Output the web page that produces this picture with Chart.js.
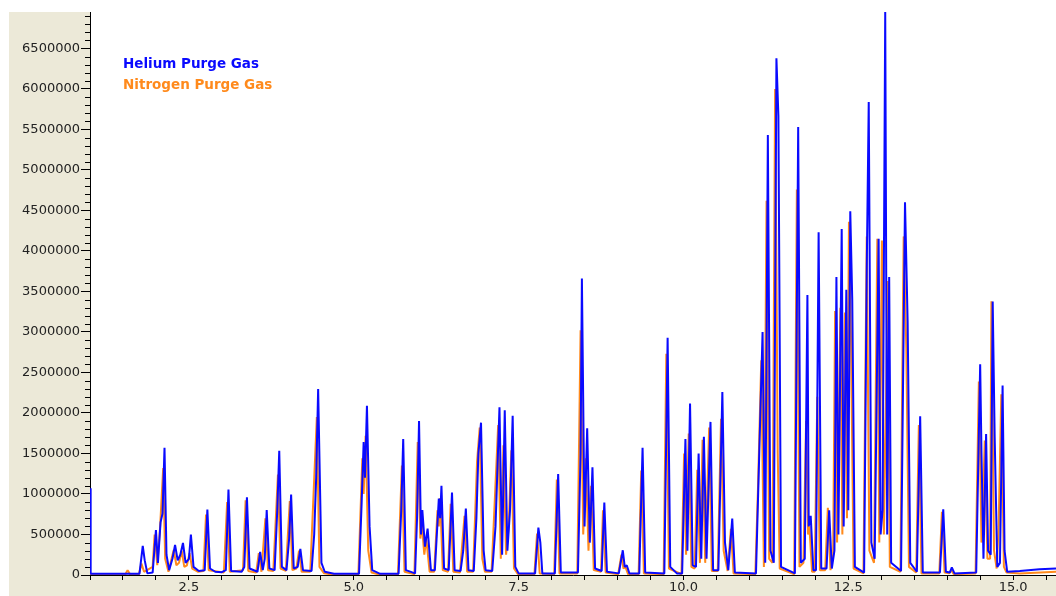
<!DOCTYPE html>
<html>
<head>
<meta charset="utf-8">
<script src="https://cdn.jsdelivr.net/npm/chart.js@4"></script>
<style>
  html, body { margin: 0; padding: 0; background: #fff; }
  canvas { display: block; }
</style>
</head>
<body>
<canvas id="chrom" width="1056" height="596"></canvas>
<script>
// retention time (min) and detector signal
var heliumTime = [
  1.00, 1.01, 1.75, 1.80, 1.83, 1.87, 1.95, 2.00, 2.03, 2.07, 2.10, 2.13, 2.16, 2.20, 2.25, 2.29, 2.33, 2.37, 2.41, 2.45,
  2.50, 2.53, 2.57, 2.65, 2.74, 2.78, 2.82, 2.90, 3.00, 3.06, 3.10, 3.14, 3.30, 3.34, 3.38, 3.42, 3.54, 3.58, 3.62, 3.65,
  3.68, 3.72, 3.80, 3.84, 3.87, 3.91, 3.98, 4.02, 4.05, 4.09, 4.15, 4.19, 4.23, 4.36, 4.40, 4.43, 4.46, 4.51, 4.56, 4.70,
  5.08, 5.12, 5.15, 5.17, 5.20, 5.24, 5.28, 5.40, 5.68, 5.72, 5.75, 5.79, 5.93, 5.96, 5.99, 6.02, 6.04, 6.08, 6.12, 6.17,
  6.23, 6.26, 6.29, 6.31, 6.33, 6.37, 6.44, 6.49, 6.53, 6.62, 6.66, 6.70, 6.74, 6.82, 6.86, 6.89, 6.93, 6.97, 7.00, 7.10,
  7.15, 7.21, 7.25, 7.29, 7.33, 7.37, 7.41, 7.45, 7.50, 7.75, 7.80, 7.83, 7.86, 8.05, 8.10, 8.14, 8.40, 8.44, 8.46, 8.50,
  8.54, 8.58, 8.62, 8.66, 8.76, 8.80, 8.84, 9.02, 9.08, 9.11, 9.14, 9.18, 9.33, 9.38, 9.42, 9.71, 9.76, 9.80, 9.90, 9.98,
  10.03, 10.06, 10.10, 10.14, 10.19, 10.23, 10.27, 10.31, 10.35, 10.41, 10.45, 10.53, 10.59, 10.63, 10.68, 10.74, 10.78, 11.10, 11.20, 11.24,
  11.28, 11.32, 11.37, 11.41, 11.44, 11.48, 11.69, 11.74, 11.78, 11.84, 11.88, 11.90, 11.93, 11.97, 12.01, 12.05, 12.09, 12.17, 12.21, 12.25,
  12.29, 12.32, 12.35, 12.40, 12.43, 12.47, 12.50, 12.53, 12.56, 12.60, 12.74, 12.78, 12.81, 12.85, 12.90, 12.96, 12.99, 13.02, 13.06, 13.09,
  13.12, 13.15, 13.30, 13.36, 13.40, 13.44, 13.54, 13.59, 13.63, 13.89, 13.94, 13.98, 14.04, 14.07, 14.11, 14.44, 14.50, 14.52, 14.55, 14.59,
  14.62, 14.66, 14.69, 14.72, 14.76, 14.80, 14.84, 14.87, 14.91, 15.10, 15.40, 15.65
];
var heliumSignal = [
  1070000, 15000, 15000, 360000, 180000, 20000, 30000, 556000, 150000, 650000, 760000, 1570000, 250000, 60000, 200000, 370000, 180000, 250000, 395000, 150000,
  200000, 500000, 100000, 50000, 60000, 807000, 80000, 40000, 35000, 60000, 1054000, 50000, 40000, 100000, 960000, 80000, 40000, 284000, 60000, 200000,
  803000, 80000, 60000, 800000, 1532000, 100000, 60000, 450000, 993000, 80000, 100000, 321000, 60000, 50000, 500000, 1200000, 2295000, 150000, 40000, 15000,
  15000, 900000, 1640000, 1200000, 2090000, 600000, 60000, 15000, 15000, 800000, 1680000, 60000, 20000, 700000, 1900000, 500000, 803000, 350000, 572000, 60000,
  60000, 500000, 943000, 700000, 1100000, 80000, 60000, 1017000, 60000, 50000, 300000, 819000, 60000, 50000, 700000, 1500000, 1880000, 300000, 60000, 50000,
  600000, 2070000, 250000, 2035000, 300000, 800000, 1965000, 100000, 20000, 20000, 585000, 400000, 20000, 20000, 1245000, 30000, 30000, 1500000, 3660000, 600000,
  1810000, 400000, 1330000, 80000, 50000, 894000, 40000, 20000, 305000, 100000, 120000, 20000, 20000, 1570000, 30000, 20000, 2930000, 100000, 20000, 20000,
  1680000, 300000, 2117000, 120000, 100000, 1500000, 200000, 1705000, 200000, 1890000, 60000, 60000, 2260000, 400000, 60000, 696000, 30000, 20000, 3000000, 150000,
  5430000, 300000, 150000, 6380000, 5670000, 100000, 20000, 5530000, 150000, 200000, 3455000, 600000, 730000, 60000, 60000, 4230000, 80000, 80000, 800000, 80000,
  300000, 3680000, 500000, 4270000, 600000, 3520000, 800000, 4490000, 3400000, 100000, 30000, 3800000, 5840000, 400000, 200000, 4150000, 500000, 800000, 6950000, 500000,
  3680000, 150000, 50000, 4600000, 3130000, 150000, 40000, 1960000, 30000, 30000, 810000, 40000, 30000, 93000, 20000, 30000, 2600000, 1500000, 200000, 1740000,
  300000, 250000, 3376000, 1700000, 100000, 150000, 2340000, 300000, 40000, 50000, 70000, 80000
];

var nitrogenTime = [
  1.00, 1.53, 1.57, 1.61, 1.74, 1.78, 1.82, 1.95, 1.98, 2.02, 2.06, 2.11, 2.14, 2.19, 2.23, 2.27, 2.31, 2.35, 2.39, 2.43,
  2.47, 2.51, 2.55, 2.64, 2.72, 2.76, 2.80, 3.03, 3.08, 3.12, 3.32, 3.36, 3.40, 3.52, 3.56, 3.60, 3.66, 3.70, 3.78, 3.85,
  3.89, 3.97, 4.03, 4.07, 4.13, 4.17, 4.21, 4.34, 4.44, 4.48, 4.55, 4.69, 5.07, 5.13, 5.15, 5.18, 5.22, 5.27, 5.39, 5.67,
  5.73, 5.77, 5.92, 5.97, 6.01, 6.03, 6.07, 6.10, 6.15, 6.22, 6.27, 6.29, 6.31, 6.35, 6.43, 6.47, 6.51, 6.61, 6.68, 6.72,
  6.81, 6.87, 6.91, 6.95, 6.99, 7.09, 7.19, 7.23, 7.27, 7.31, 7.35, 7.39, 7.43, 7.49, 7.74, 7.78, 7.82, 8.04, 8.08, 8.12,
  8.39, 8.44, 8.48, 8.52, 8.56, 8.60, 8.64, 8.75, 8.78, 8.82, 9.01, 9.06, 9.09, 9.12, 9.16, 9.32, 9.36, 9.40, 9.70, 9.74,
  9.78, 9.97, 10.01, 10.04, 10.08, 10.12, 10.17, 10.21, 10.25, 10.29, 10.33, 10.39, 10.43, 10.52, 10.57, 10.61, 10.67, 10.72, 10.76, 11.09,
  11.13, 11.18, 11.22, 11.26, 11.30, 11.35, 11.39, 11.43, 11.46, 11.68, 11.72, 11.76, 11.82, 11.86, 11.89, 11.91, 11.95, 11.99, 12.03, 12.07,
  12.15, 12.19, 12.23, 12.27, 12.30, 12.33, 12.38, 12.41, 12.45, 12.48, 12.51, 12.54, 12.58, 12.73, 12.78, 12.82, 12.89, 12.94, 12.97, 13.01,
  13.04, 13.10, 13.13, 13.29, 13.34, 13.38, 13.42, 13.53, 13.57, 13.61, 13.88, 13.92, 13.96, 14.03, 14.06, 14.10, 14.43, 14.48, 14.52, 14.57,
  14.61, 14.65, 14.67, 14.71, 14.75, 14.78, 14.82, 14.86, 14.90, 15.10, 15.65
];
var nitrogenSignal = [
  0, 0, 60000, 5000, 5000, 140000, 40000, 100000, 500000, 120000, 550000, 1320000, 200000, 40000, 180000, 310000, 120000, 150000, 300000, 100000,
  120000, 270000, 80000, 40000, 50000, 745000, 60000, 30000, 900000, 40000, 60000, 923000, 50000, 30000, 270000, 40000, 700000, 60000, 50000, 1240000,
  80000, 50000, 914000, 60000, 80000, 300000, 40000, 40000, 1950000, 100000, 20000, 5000, 5000, 1440000, 1000000, 1720000, 300000, 30000, 5000, 5000,
  1350000, 40000, 10000, 1640000, 450000, 650000, 250000, 450000, 40000, 40000, 800000, 600000, 950000, 60000, 40000, 880000, 40000, 30000, 730000, 40000,
  40000, 1400000, 1820000, 200000, 40000, 40000, 1850000, 200000, 1600000, 250000, 600000, 1540000, 80000, 10000, 10000, 510000, 20000, 10000, 1180000, 20000,
  20000, 3020000, 500000, 1440000, 300000, 1100000, 60000, 40000, 800000, 30000, 10000, 250000, 80000, 100000, 10000, 10000, 1290000, 20000, 10000, 2730000,
  80000, 10000, 1500000, 250000, 1745000, 100000, 80000, 1300000, 150000, 1670000, 150000, 1820000, 50000, 50000, 1930000, 300000, 50000, 570000, 20000, 10000,
  1060000, 2650000, 100000, 4620000, 200000, 150000, 6000000, 1500000, 80000, 10000, 4760000, 100000, 150000, 1900000, 500000, 600000, 40000, 40000, 2200000, 60000,
  60000, 830000, 60000, 250000, 3260000, 400000, 3300000, 500000, 3240000, 700000, 4360000, 3000000, 80000, 20000, 4180000, 300000, 150000, 4150000, 400000, 4130000,
  500000, 3630000, 100000, 40000, 4180000, 2800000, 100000, 30000, 1850000, 20000, 20000, 780000, 30000, 20000, 60000, 10000, 20000, 2390000, 400000, 1660000,
  200000, 200000, 3380000, 300000, 80000, 600000, 2230000, 100000, 30000, 20000, 40000
];

var seriesNames = ['Helium Purge Gas', 'Nitrogen Purge Gas'];
var seriesColors = ['#0a0aff', '#ff8a1c'];

var yMax = 6950000;
var xMin = 1.0, xMax = 15.65;

function toPoints(times, values) {
    return times.map(function (t, i) { return { x: t, y: values[i] }; });
}

function isMajor(v) {
    return Math.abs(v / 500000 - Math.round(v / 500000)) < 1e-6;
}
function isMinor(v) {
    return !isMajor(v) && Math.abs(v / 100000 - Math.round(v / 100000)) < 1e-6;
}

// beige frame behind the axes, white plot area
var framePlugin = {
    id: 'frame',
    beforeDraw: function (chart) {
        var c = chart.ctx, a = chart.chartArea;
        c.save();
        c.fillStyle = '#ffffff';
        c.fillRect(0, 0, chart.width, chart.height);
        c.fillStyle = '#ece9d8';
        c.fillRect(9, a.top, a.left - 9, chart.height - a.top);
        c.fillRect(9, a.bottom, chart.width - 9, chart.height - a.bottom);
        c.fillStyle = '#ffffff';
        c.fillRect(a.left, a.top, a.right - a.left, a.bottom - a.top);
        c.restore();
    },
    afterDraw: function (chart) {
        // minor ticks on the y axis
        var c = chart.ctx, ys = chart.scales.y, a = chart.chartArea;
        c.save();
        c.strokeStyle = '#000';
        c.lineWidth = 1;
        ys.ticks.forEach(function (tk) {
            if (!isMinor(tk.value)) return;
            var py = Math.round(ys.getPixelForValue(tk.value)) + 0.5;
            c.beginPath();
            c.moveTo(a.left - 5, py);
            c.lineTo(a.left, py);
            c.stroke();
        });
        // legend text inside the plot
        c.font = 'bold 13.5px "DejaVu Sans"';
        c.textBaseline = 'middle';
        c.textAlign = 'left';
        c.fillStyle = seriesColors[0];
        c.fillText(seriesNames[0], 123, 64);
        c.fillStyle = seriesColors[1];
        c.fillText(seriesNames[1], 123, 85);
        c.restore();
    }
};

new Chart(document.getElementById('chrom'), {
    type: 'line',
    data: {
        datasets: [{
            label: seriesNames[0],
            data: toPoints(heliumTime, heliumSignal),
            borderColor: seriesColors[0],
            borderWidth: 2,
            pointRadius: 0,
            tension: 0,
            borderJoinStyle: 'bevel',
            fill: false
        }, {
            label: seriesNames[1],
            data: toPoints(nitrogenTime, nitrogenSignal),
            borderColor: seriesColors[1],
            borderWidth: 2,
            pointRadius: 0,
            tension: 0,
            borderJoinStyle: 'bevel',
            fill: false
        }]
    },
    options: {
        responsive: false,
        animation: false,
        layout: { padding: { top: 12, right: 0, left: 0, bottom: 0 } },
        plugins: {
            legend: { display: false },
            tooltip: { enabled: false }
        },
        scales: {
            x: {
                type: 'linear',
                min: xMin,
                max: xMax,
                afterFit: function (s) { s.height = 21; },
                border: { display: true, color: '#000', width: 1 },
                grid: { drawOnChartArea: false, drawTicks: true, tickLength: 5, tickColor: '#000' },
                ticks: {
                    stepSize: 0.5,
                    includeBounds: false,
                    autoSkip: false,
                    maxRotation: 0,
                    padding: 0,
                    color: '#222',
                    font: { family: 'DejaVu Sans', size: 13 },
                    callback: function (v) {
                        var r = v / 2.5;
                        return Math.abs(r - Math.round(r)) < 1e-6 ? v.toFixed(1) : '';
                    }
                }
            },
            y: {
                min: 0,
                max: yMax,
                afterFit: function (s) { s.width = 90; },
                border: { display: true, color: '#000', width: 1 },
                grid: {
                    drawOnChartArea: false,
                    drawTicks: true,
                    tickLength: 9,
                    tickColor: function (ctx) {
                        return (ctx.tick && isMajor(ctx.tick.value)) ? '#000' : 'rgba(0,0,0,0)';
                    }
                },
                ticks: {
                    stepSize: 50000,
                    includeBounds: false,
                    autoSkip: false,
                    padding: 1,
                    color: '#222',
                    font: { family: 'DejaVu Sans', size: 13 },
                    callback: function (v) {
                        return isMajor(v) ? String(Math.round(v)) : '';
                    }
                }
            }
        }
    },
    plugins: [framePlugin]
});
</script>
</body>
</html>
